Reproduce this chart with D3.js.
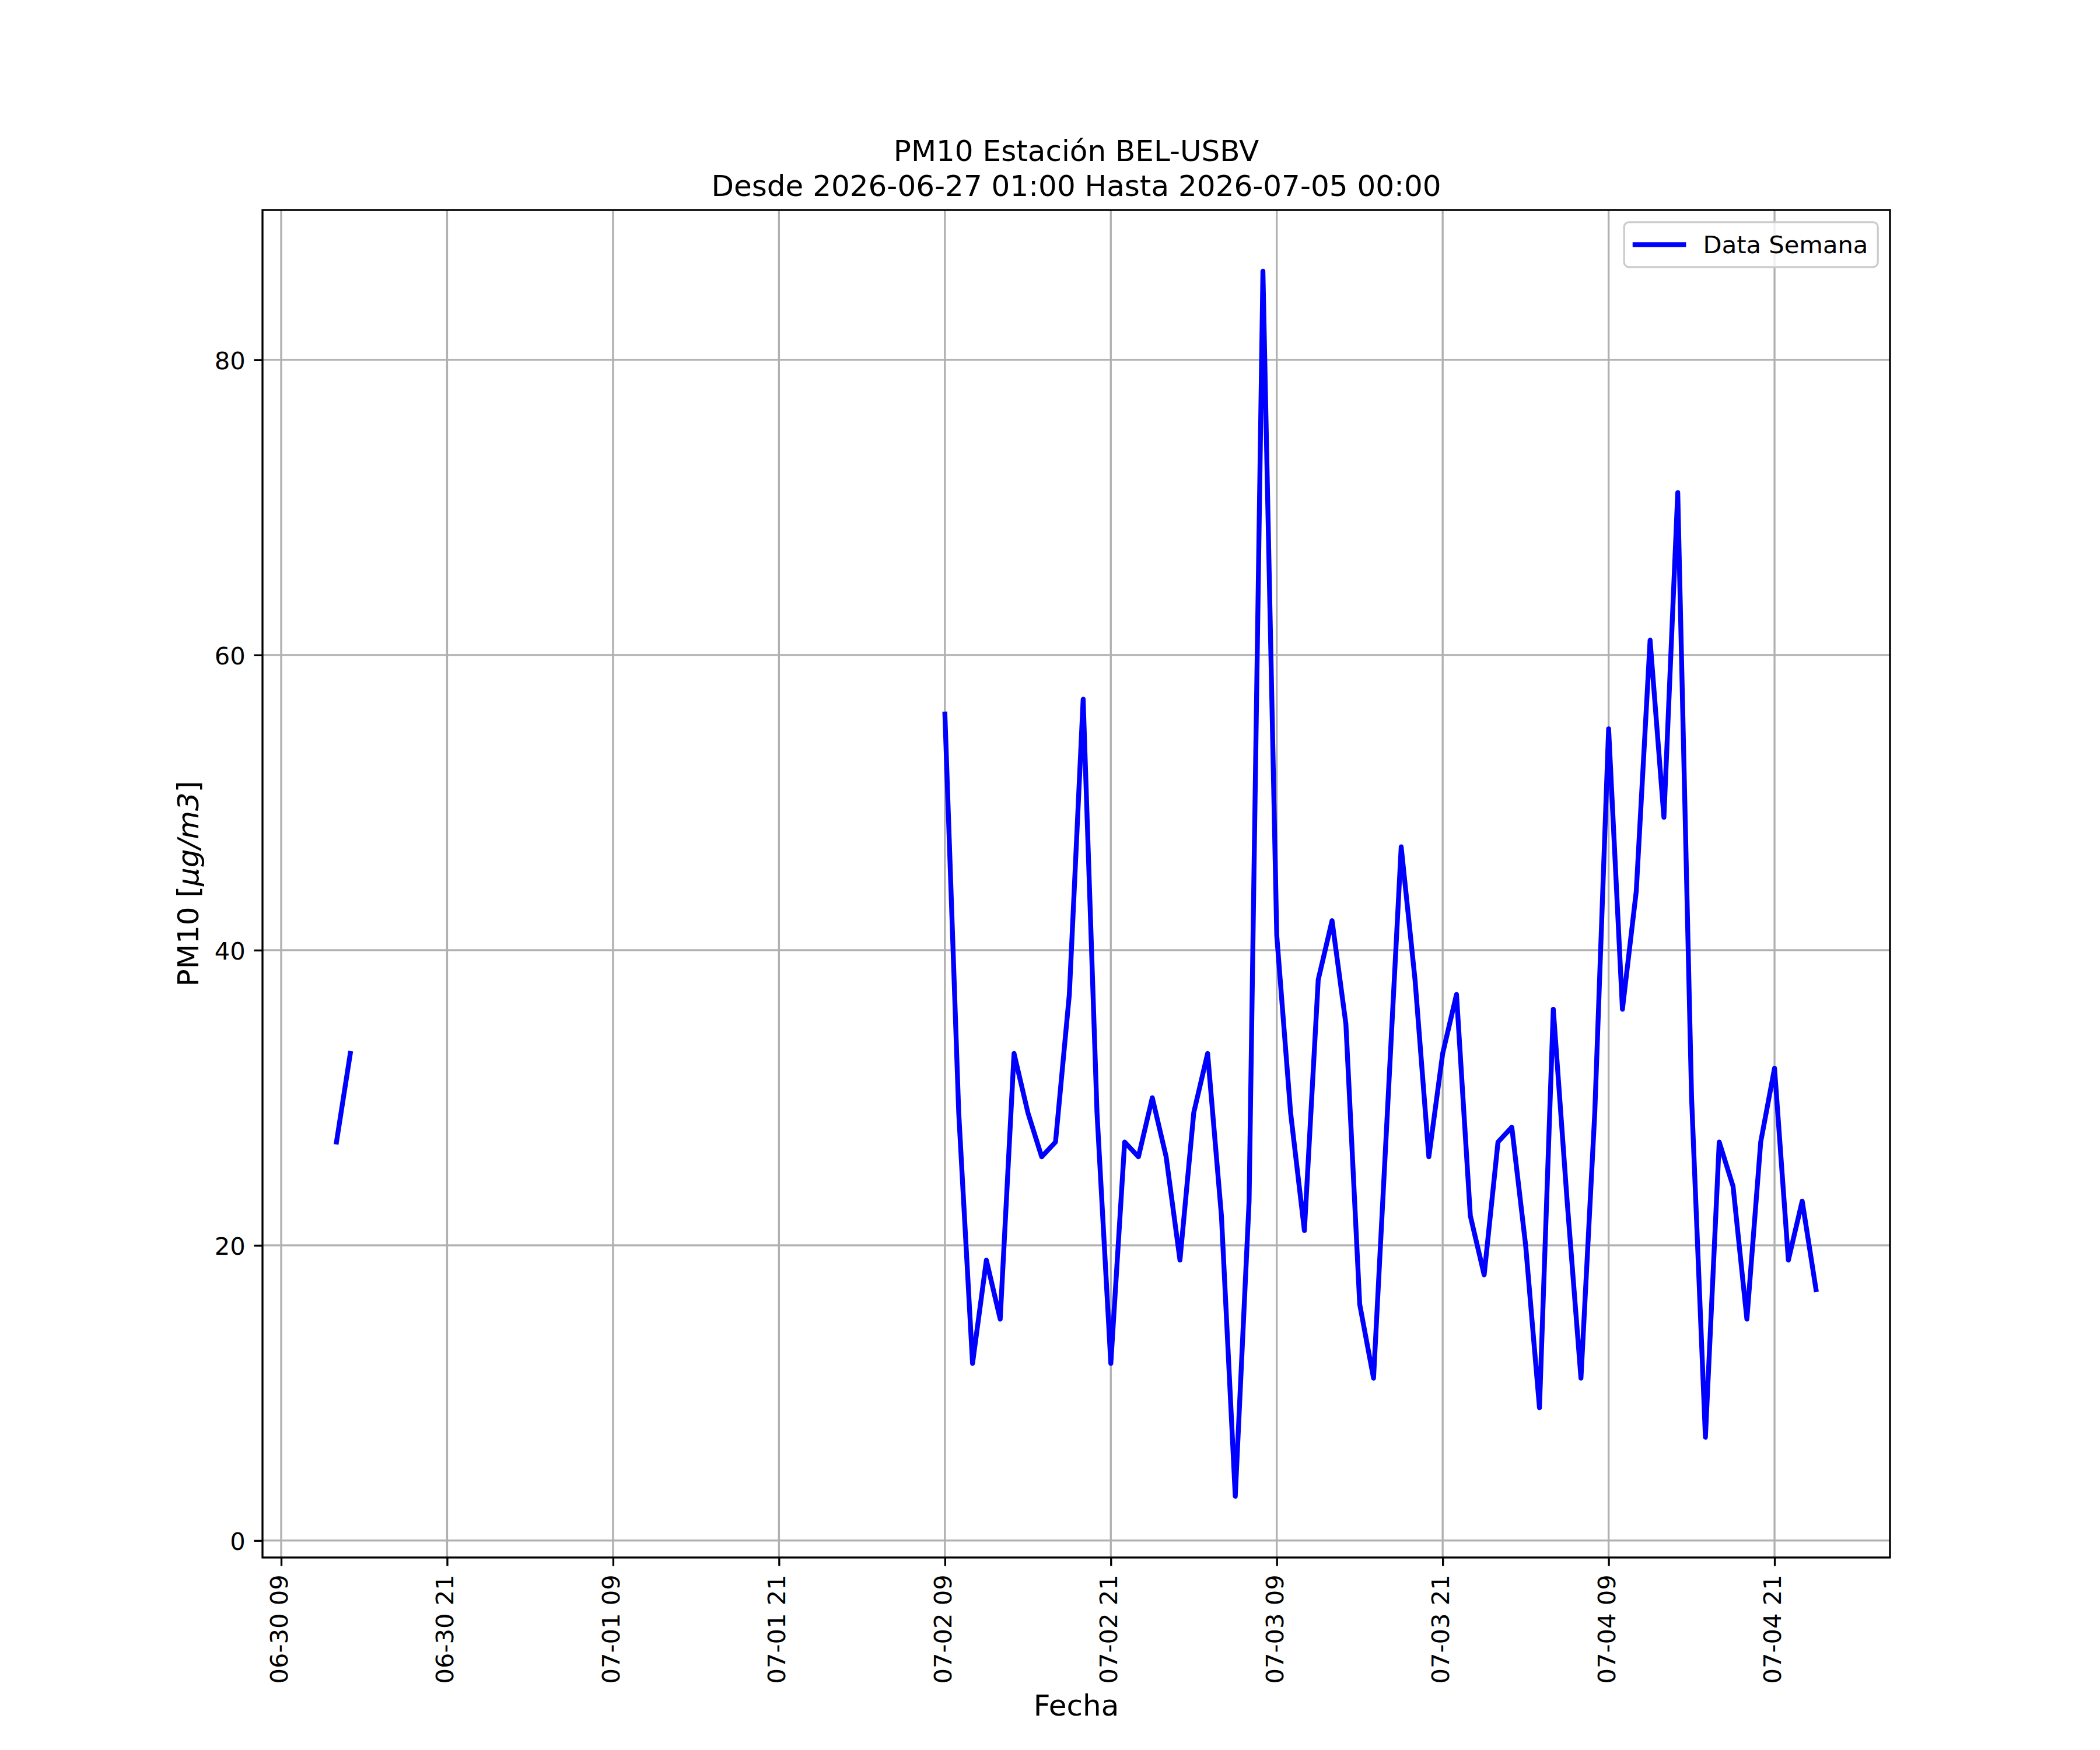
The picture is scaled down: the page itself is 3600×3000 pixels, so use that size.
<!DOCTYPE html>
<html>
<head>
  <meta charset="utf-8">
  <title>PM10 Estación BEL-USBV</title>
  <script src="https://d3js.org/d3.v7.min.js"></script>
  <style>
    body {
      margin: 0;
      background: #fff;
      font-family: "DejaVu Sans", sans-serif;
    }
    svg text {
      font-family: "DejaVu Sans", sans-serif;
    }
  </style>
</head>
<body>

<svg id="chart" width="3600" height="3000"></svg>

<script>
  // Datos horarios PM10 (null = sin dato, corta la línea)
  const fechas = [
    "2026-06-30 13:00", "2026-06-30 14:00", "2026-06-30 15:00",
    "2026-07-02 09:00", "2026-07-02 10:00", "2026-07-02 11:00", "2026-07-02 12:00",
    "2026-07-02 13:00", "2026-07-02 14:00", "2026-07-02 15:00", "2026-07-02 16:00",
    "2026-07-02 17:00", "2026-07-02 18:00", "2026-07-02 19:00", "2026-07-02 20:00",
    "2026-07-02 21:00", "2026-07-02 22:00", "2026-07-02 23:00", "2026-07-03 00:00",
    "2026-07-03 01:00", "2026-07-03 02:00", "2026-07-03 03:00", "2026-07-03 04:00",
    "2026-07-03 05:00", "2026-07-03 06:00", "2026-07-03 07:00", "2026-07-03 08:00",
    "2026-07-03 09:00", "2026-07-03 10:00", "2026-07-03 11:00", "2026-07-03 12:00",
    "2026-07-03 13:00", "2026-07-03 14:00", "2026-07-03 15:00", "2026-07-03 16:00",
    "2026-07-03 17:00", "2026-07-03 18:00", "2026-07-03 19:00", "2026-07-03 20:00",
    "2026-07-03 21:00", "2026-07-03 22:00", "2026-07-03 23:00", "2026-07-04 00:00",
    "2026-07-04 01:00", "2026-07-04 02:00", "2026-07-04 03:00", "2026-07-04 04:00",
    "2026-07-04 05:00", "2026-07-04 06:00", "2026-07-04 07:00", "2026-07-04 08:00",
    "2026-07-04 09:00", "2026-07-04 10:00", "2026-07-04 11:00", "2026-07-04 12:00",
    "2026-07-04 13:00", "2026-07-04 14:00", "2026-07-04 15:00", "2026-07-04 16:00",
    "2026-07-04 17:00", "2026-07-04 18:00", "2026-07-04 19:00", "2026-07-04 20:00",
    "2026-07-04 21:00", "2026-07-04 22:00", "2026-07-04 23:00", "2026-07-05 00:00"
  ];
  const pm10 = [
    27, 33, null,
    56, 29, 12, 19, 15, 33, 29, 26, 27, 37, 57, 29,
    12, 27, 26, 30, 26, 19, 29, 33, 22, 3, 23, 86,
    41, 29, 21, 38, 42, 35, 16, 11, 29, 47, 38, 26,
    33, 37, 22, 18, 27, 28, 20, 9, 36, 23, 11, 29,
    55, 36, 44, 61, 49, 71, 30, 7, 27, 24, 15, 27,
    32, 19, 23, 17
  ];

  // Marcas de los ejes
  const xTicks = [
    "2026-06-30 09:00", "2026-06-30 21:00", "2026-07-01 09:00", "2026-07-01 21:00",
    "2026-07-02 09:00", "2026-07-02 21:00", "2026-07-03 09:00", "2026-07-03 21:00",
    "2026-07-04 09:00", "2026-07-04 21:00"
  ];
  const yTicks = [0, 20, 40, 60, 80];

  const titulo = ["PM10 Estación BEL-USBV", "Desde 2026-06-27 01:00 Hasta 2026-07-05 00:00"];
  const serieNombre = "Data Semana";

  // Geometria (figura 3600x3000, ejes estilo matplotlib)
  const W = 3600, H = 3000;
  const axL = 450, axR = 3240, axT = 360, axB = 2670;
  const pt = 300 / 72;              // 1 pt en pixeles
  const fs = 10 * pt, fsBig = 12 * pt;
  const lw = 0.8 * pt;              // grosor de ejes y grilla
  const tickLen = 3.5 * pt, tickPad = 3.5 * pt;

  const parse = d3.utcParse("%Y-%m-%d %H:%M");
  const data = fechas.map((f, i) => ({ t: parse(f), v: pm10[i] }));
  const valid = data.filter(d => d.v !== null);

  // Escalas con margen del 5% como matplotlib
  const tExt = d3.extent(valid, d => d.t);
  const tPad = (tExt[1] - tExt[0]) * 0.05;
  const x = d3.scaleUtc()
          .domain([new Date(+tExt[0] - tPad), new Date(+tExt[1] + tPad)])
          .range([axL, axR]);

  const vExt = d3.extent(valid, d => d.v);
  const vPad = (vExt[1] - vExt[0]) * 0.05;
  const y = d3.scaleLinear()
          .domain([vExt[0] - vPad, vExt[1] + vPad])
          .range([axB, axT]);

  const svg = d3.select("#chart");
  svg.append("rect").attr("width", W).attr("height", H).attr("fill", "#fff");

  // Grilla
  const grid = svg.append("g");
  grid.selectAll(".gx").data(xTicks.map(parse)).enter().append("line")
          .attr("x1", d => x(d)).attr("x2", d => x(d))
          .attr("y1", axT).attr("y2", axB)
          .attr("stroke", "#b0b0b0").attr("stroke-width", lw);
  grid.selectAll(".gy").data(yTicks).enter().append("line")
          .attr("x1", axL).attr("x2", axR)
          .attr("y1", d => y(d)).attr("y2", d => y(d))
          .attr("stroke", "#b0b0b0").attr("stroke-width", lw);

  // Serie
  const lineGen = d3.line()
          .defined(d => d.v !== null)
          .x(d => x(d.t))
          .y(d => y(d.v));

  svg.append("path")
          .datum(data)
          .attr("fill", "none")
          .attr("stroke", "#0000ff")
          .attr("stroke-width", 2 * pt)
          .attr("stroke-linejoin", "round")
          .attr("stroke-linecap", "square")
          .attr("d", lineGen);

  // Eje X
  const xAxis = d3.axisBottom(x)
          .tickValues(xTicks.map(parse))
          .tickFormat(d3.utcFormat("%m-%d %H"))
          .tickSize(tickLen)
          .tickSizeOuter(0);
  const xg = svg.append("g")
          .attr("transform", `translate(0,${axB})`)
          .call(xAxis);
  xg.select(".domain").remove();
  xg.selectAll(".tick line").attr("stroke", "#000").attr("stroke-width", lw);
  xg.selectAll(".tick text")
          .attr("transform", "rotate(-90)")
          .attr("x", -(tickLen + tickPad))
          .attr("y", 10.4)
          .attr("dy", null)
          .style("text-anchor", "end")
          .style("font-size", fs + "px")
          .style("font-family", "DejaVu Sans")
          .attr("fill", "#000");

  // Eje Y
  const yAxis = d3.axisLeft(y)
          .tickValues(yTicks)
          .tickFormat(d3.format("d"))
          .tickSize(tickLen)
          .tickPadding(tickPad)
          .tickSizeOuter(0);
  const yg = svg.append("g")
          .attr("transform", `translate(${axL},0)`)
          .call(yAxis);
  yg.select(".domain").remove();
  yg.selectAll(".tick line").attr("stroke", "#000").attr("stroke-width", lw);
  yg.selectAll(".tick text")
          .attr("dy", "0.365em")
          .style("font-size", fs + "px")
          .style("font-family", "DejaVu Sans")
          .attr("fill", "#000");

  // Marco de los ejes
  svg.append("rect")
          .attr("x", axL).attr("y", axT)
          .attr("width", axR - axL).attr("height", axB - axT)
          .attr("fill", "none")
          .attr("stroke", "#000")
          .attr("stroke-width", lw);

  // Titulo
  svg.append("text")
          .attr("x", (axL + axR) / 2).attr("y", 276)
          .attr("text-anchor", "middle")
          .style("font-size", fsBig + "px")
          .text(titulo[0]);
  svg.append("text")
          .attr("x", (axL + axR) / 2).attr("y", 336)
          .attr("text-anchor", "middle")
          .style("font-size", fsBig + "px")
          .text(titulo[1]);

  // Etiquetas de ejes
  svg.append("text")
          .attr("x", (axL + axR) / 2).attr("y", 2941)
          .attr("text-anchor", "middle")
          .style("font-size", fsBig + "px")
          .text("Fecha");

  const yl = svg.append("text")
          .attr("transform", `translate(340,${(axT + axB) / 2}) rotate(-90)`)
          .attr("text-anchor", "middle")
          .style("font-size", fsBig + "px");
  yl.append("tspan").text("PM10 [");
  yl.append("tspan").style("font-style", "italic").text("\u03bcg/m3");
  yl.append("tspan").text("]");

  // Leyenda
  const fsL = fs;
  const lgRight = axR - 0.5 * fsL, lgTop = axT + 0.5 * fsL;
  const lgW = 435, lgH = 77;
  const lg = svg.append("g");
  lg.append("rect")
          .attr("x", lgRight - lgW).attr("y", lgTop)
          .attr("width", lgW).attr("height", lgH)
          .attr("rx", 0.2 * fsL).attr("ry", 0.2 * fsL)
          .attr("fill", "rgba(255,255,255,0.8)")
          .attr("stroke", "#cccccc")
          .attr("stroke-width", lw);
  const hx0 = lgRight - lgW + 0.45 * fsL;
  const hy = lgTop + lgH / 2;
  lg.append("line")
          .attr("x1", hx0).attr("x2", hx0 + 2 * fsL)
          .attr("y1", hy).attr("y2", hy)
          .attr("stroke", "#0000ff")
          .attr("stroke-width", 2 * pt)
          .attr("stroke-linecap", "square");
  lg.append("text")
          .attr("x", hx0 + 2 * fsL + 0.8 * fsL)
          .attr("y", hy + 15)
          .style("font-size", fsL + "px")
          .text(serieNombre);
</script>
</body>
</html>
